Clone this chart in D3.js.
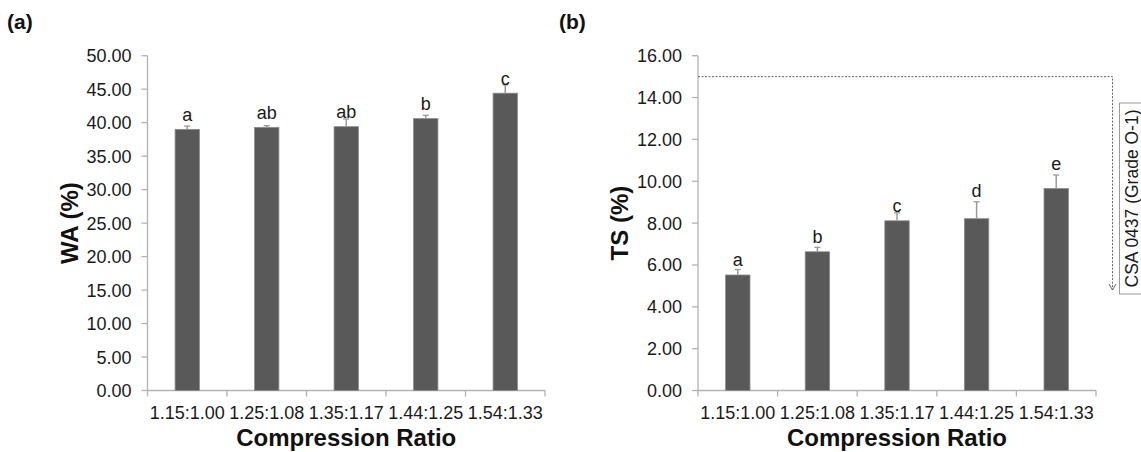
<!DOCTYPE html>
<html>
<head>
<meta charset="utf-8">
<script src="https://cdn.jsdelivr.net/npm/d3@7"></script>
<style>
  body { margin: 0; background: #fff; }
  svg { display: block; font-family: "Liberation Sans", Arial, sans-serif; }
</style>
</head>
<body>
<script>
// data
const ratios = ["1.15:1.00", "1.25:1.08", "1.35:1.17", "1.44:1.25", "1.54:1.33"];

const waValues = [39.0, 39.3, 39.4, 40.6, 44.4];
const waErrors = [0.5, 0.25, 1.15, 0.5, 1.25];
const waLetters = ["a", "ab", "ab", "b", "c"];
const waTicks = [0, 5, 10, 15, 20, 25, 30, 35, 40, 45, 50];

const tsValues = [5.52, 6.63, 8.11, 8.21, 9.65];
const tsErrors = [0.26, 0.21, 0.38, 0.81, 0.65];
const tsLetters = ["a", "b", "c", "d", "e"];
const tsTicks = [0, 2, 4, 6, 8, 10, 12, 14, 16];

const tsLimit = 15;       // CSA 0437 (Grade O-1) line
const tsArrowEnd = 4.8;   // where the arrow stops

const W = 1141, H = 452;
const svg = d3.select("body").append("svg")
  .attr("width", W)
  .attr("height", H);

const AXIS = "#b3b3b3";
const BAR = "#595959";
const INK = "#1a1a1a";

function panel(opt) {
  const {left, right, top, bottom, values, errors, letters, ticks, title, tag, tagX} = opt;
  const g = svg.append("g");

  const x = d3.scaleBand().domain(ratios).range([left, right]).padding(0);
  const y = d3.scaleLinear().domain([ticks[0], ticks[ticks.length - 1]]).range([bottom, top]);
  const bw = x.bandwidth() * 0.306;

  // y axis
  g.append("line")
    .attr("x1", left).attr("x2", left)
    .attr("y1", top).attr("y2", bottom)
    .attr("stroke", AXIS).attr("stroke-width", 1.3);
  g.selectAll(".ytick").data(ticks).enter().append("line")
    .attr("x1", left - 6).attr("x2", left)
    .attr("y1", d => y(d)).attr("y2", d => y(d))
    .attr("stroke", AXIS).attr("stroke-width", 1.3);
  g.selectAll(".ylab").data(ticks).enter().append("text")
    .attr("x", left - 16)
    .attr("y", d => y(d))
    .attr("dy", "0.36em")
    .attr("text-anchor", "end")
    .attr("font-size", 18)
    .attr("fill", INK)
    .text(d3.format(".2f"));

  // x axis
  g.append("line")
    .attr("x1", left).attr("x2", right)
    .attr("y1", bottom).attr("y2", bottom)
    .attr("stroke", AXIS).attr("stroke-width", 1.3);
  const edges = ratios.map(d => x(d)).concat([right]);
  g.selectAll(".xtick").data(edges).enter().append("line")
    .attr("x1", d => d).attr("x2", d => d)
    .attr("y1", bottom).attr("y2", bottom + 6)
    .attr("stroke", AXIS).attr("stroke-width", 1.3);
  g.selectAll(".xlab").data(ratios).enter().append("text")
    .attr("x", d => x(d) + x.bandwidth() / 2)
    .attr("y", bottom + 28)
    .attr("text-anchor", "middle")
    .attr("font-size", 18)
    .attr("fill", INK)
    .text(d => d);

  // bars
  g.selectAll(".bar").data(values).enter().append("rect")
    .attr("x", (d, i) => x(ratios[i]) + (x.bandwidth() - bw) / 2)
    .attr("y", d => y(d))
    .attr("width", bw)
    .attr("height", d => bottom - y(d))
    .attr("fill", BAR)
    .attr("stroke", "#8a8a8a")
    .attr("stroke-width", 0.8);

  // error bars (only the upper half shows above the bar)
  values.forEach((v, i) => {
    const cx = x(ratios[i]) + x.bandwidth() / 2;
    g.append("line")
      .attr("x1", cx).attr("x2", cx)
      .attr("y1", y(v)).attr("y2", y(v + errors[i]))
      .attr("stroke", "#9a9a9a").attr("stroke-width", 1.5);
    g.append("line")
      .attr("x1", cx - 3).attr("x2", cx + 3)
      .attr("y1", y(v + errors[i])).attr("y2", y(v + errors[i]))
      .attr("stroke", "#9a9a9a").attr("stroke-width", 1.3);
  });

  // significance letters
  g.selectAll(".letter").data(letters).enter().append("text")
    .attr("x", (d, i) => x(ratios[i]) + x.bandwidth() / 2)
    .attr("y", (d, i) => {
      const barTop = y(values[i]);
      const tip = y(values[i] + errors[i]);
      return (barTop - tip > 10) ? tip - 5 : barTop - 8.5;
    })
    .attr("text-anchor", "middle")
    .attr("font-size", 18)
    .attr("fill", INK)
    .text(d => d);

  // axis titles
  g.append("text")
    .attr("x", (left + right) / 2)
    .attr("y", 446)
    .attr("text-anchor", "middle")
    .attr("font-size", 24)
    .attr("font-weight", "bold")
    .attr("fill", "#111")
    .text("Compression Ratio");
  g.append("text")
    .attr("transform", `translate(${left - 70},${(top + bottom) / 2}) rotate(-90)`)
    .attr("text-anchor", "middle")
    .attr("font-size", 24)
    .attr("font-weight", "bold")
    .attr("fill", "#111")
    .text(title);

  // panel tag
  svg.append("text")
    .attr("x", tagX)
    .attr("y", 29)
    .attr("font-size", 21)
    .attr("font-weight", "bold")
    .attr("fill", "#111")
    .text(tag);

  return {g, x, y};
}

panel({
  left: 147.5, right: 545, top: 55.7, bottom: 390.5,
  values: waValues, errors: waErrors, letters: waLetters, ticks: waTicks,
  title: "WA (%)", tag: "(a)", tagX: 7
});

const b = panel({
  left: 698, right: 1096, top: 55.7, bottom: 390.5,
  values: tsValues, errors: tsErrors, letters: tsLetters, ticks: tsTicks,
  title: "TS (%)", tag: "(b)", tagX: 559
});

// standard limit: dashed line, then a down arrow
const lineX = 1112.5;
const limY = b.y(tsLimit);
const endY = b.y(tsArrowEnd);
svg.append("path")
  .attr("d", `M698,${limY} H${lineX} V${endY}`)
  .attr("fill", "none")
  .attr("stroke", "#666")
  .attr("stroke-width", 1)
  .attr("stroke-dasharray", "2,1.5");
svg.append("path")
  .attr("d", `M${lineX - 3.5},${endY - 6} L${lineX},${endY} L${lineX + 3.5},${endY - 6}`)
  .attr("fill", "none")
  .attr("stroke", "#666")
  .attr("stroke-width", 1);

// label box
svg.append("rect")
  .attr("x", 1119.5).attr("y", 103)
  .attr("width", 40).attr("height", 191)
  .attr("fill", "#fff")
  .attr("stroke", "#9a9a9a")
  .attr("stroke-width", 1);
svg.append("text")
  .attr("transform", `translate(1137.5,${(103 + 294) / 2}) rotate(-90)`)
  .attr("text-anchor", "middle")
  .attr("font-size", 17.5)
  .attr("fill", INK)
  .text("CSA 0437 (Grade O-1)");
</script>
</body>
</html>
